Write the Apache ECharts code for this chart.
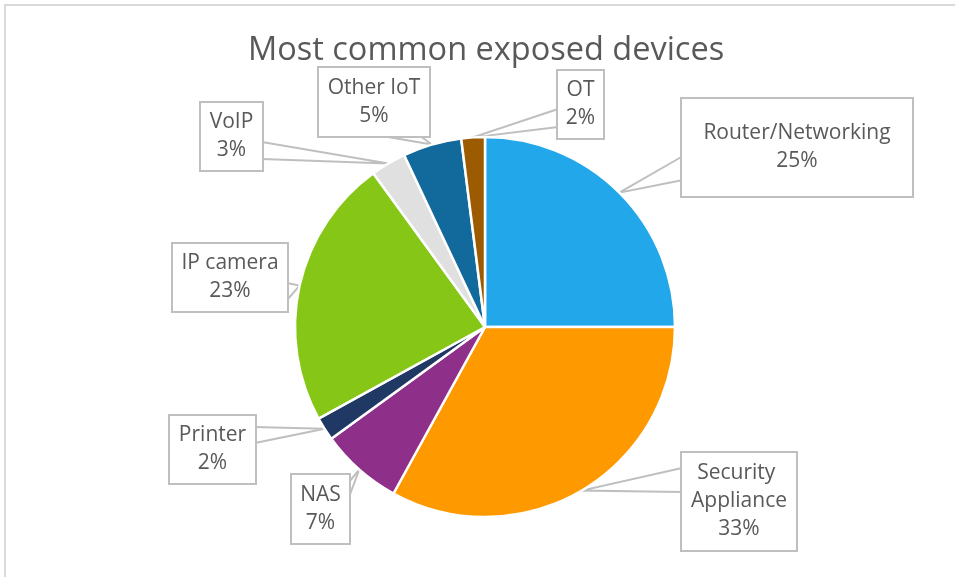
<!DOCTYPE html>
<html>
<head>
<meta charset="utf-8">
<script src="https://cdn.jsdelivr.net/npm/echarts@6/dist/echarts.min.js"></script>
<style>
  html, body { margin: 0; padding: 0; background: #fff; }
  #frame { position: absolute; left: 4px; top: 4px; width: 1000px; height: 1000px;
           border-left: 2px solid #d9d9d9; border-top: 2px solid #d9d9d9; box-sizing: border-box; }
  #chart { position: absolute; left: 0; top: 0; width: 955px; height: 577px; }
</style>
</head>
<body>
<div id="frame"></div>
<div id="chart"></div>
<script>
// ---- data ----
const categories = ['Router/Networking', 'Security Appliance', 'NAS', 'Printer', 'IP camera', 'VoIP', 'Other IoT', 'OT'];
const shares = [25, 33, 7, 2, 23, 3, 5, 2];
const sliceColors = ['#22A7EA', '#FF9900', '#8E2F8A', '#1F3864', '#86C617', '#E0E0E0', '#12699C', '#9C5B00'];
const titleText = 'Most common exposed devices';

// ---- callout layout (positions / sizes only) ----
const calloutCenters = [[797, 147.5], [739, 501.5], [320.5, 509], [212.5, 449.5], [230, 277.5], [231.5, 136.5], [374, 102], [580.5, 104.5]];
const calloutSizes = [[230, 97], [114, 97], [57, 68], [85, 67], [114, 67], [61, 67], [110, 68], [45, 67]];
const calloutLines = [2, 3, 2, 2, 2, 2, 2, 2];
// where each callout's pointer leaves its box (two base points on the box edge)
const pointerBases = [
  [[683, 156], [683, 180]],
  [[682, 468], [682, 492]],
  [[349, 482], [349, 497]],
  [[255, 427], [255, 443]],
  [[287, 283], [287, 300]],
  [[262, 142], [262, 159]],
  [[382, 136], [420, 136]],
  [[558, 109], [558, 127]]
];
const LINE_H = 28;

const chart = echarts.init(document.getElementById('chart'), null, { renderer: 'canvas' });

const seriesData = categories.map((name, i) => {
  const w = calloutSizes[i][0], h = calloutSizes[i][1];
  const padY = (h - calloutLines[i] * LINE_H) / 2;
  return {
    name: name,
    value: shares[i],
    itemStyle: { color: sliceColors[i] },
    label: { width: w, padding: [padY, 0, padY, 0] }
  };
});

chart.setOption({
  backgroundColor: 'transparent',
  animation: false,
  title: {
    text: titleText,
    left: 243,
    top: 29,
    textStyle: { fontFamily: 'Open Sans', fontSize: 32.5, fontWeight: 'normal', color: '#595959' }
  },
  series: [{
    type: 'pie',
    center: [485, 327],
    radius: 190,
    startAngle: 90,
    clockwise: true,
    avoidLabelOverlap: false,
    itemStyle: { borderColor: '#ffffff', borderWidth: 2.5 },
    label: {
      show: true,
      position: 'outside',
      formatter: '{b}\n{c}%',
      fontFamily: 'Open Sans',
      fontSize: 21,
      lineHeight: LINE_H,
      color: '#595959',
      align: 'center',
      overflow: 'break',
      backgroundColor: '#ffffff',
      borderColor: '#bfbfbf',
      borderWidth: 2
    },
    labelLine: {
      show: true,
      length: 1,
      length2: 1,
      lineStyle: { color: '#bfbfbf', width: 2, join: 'miter' }
    },
    labelLayout: function (params) {
      const i = params.dataIndex;
      const c = calloutCenters[i];
      const out = { x: c[0], y: c[1], align: 'center', verticalAlign: 'middle' };
      if (params.labelLinePoints && params.labelLinePoints.length) {
        const tip = params.labelLinePoints[0];
        const b = pointerBases[i];
        out.labelLinePoints = [b[0], [tip[0], tip[1]], b[1]];
      }
      return out;
    },
    emphasis: { disabled: true },
    data: seriesData
  }]
});
</script>
</body>
</html>
